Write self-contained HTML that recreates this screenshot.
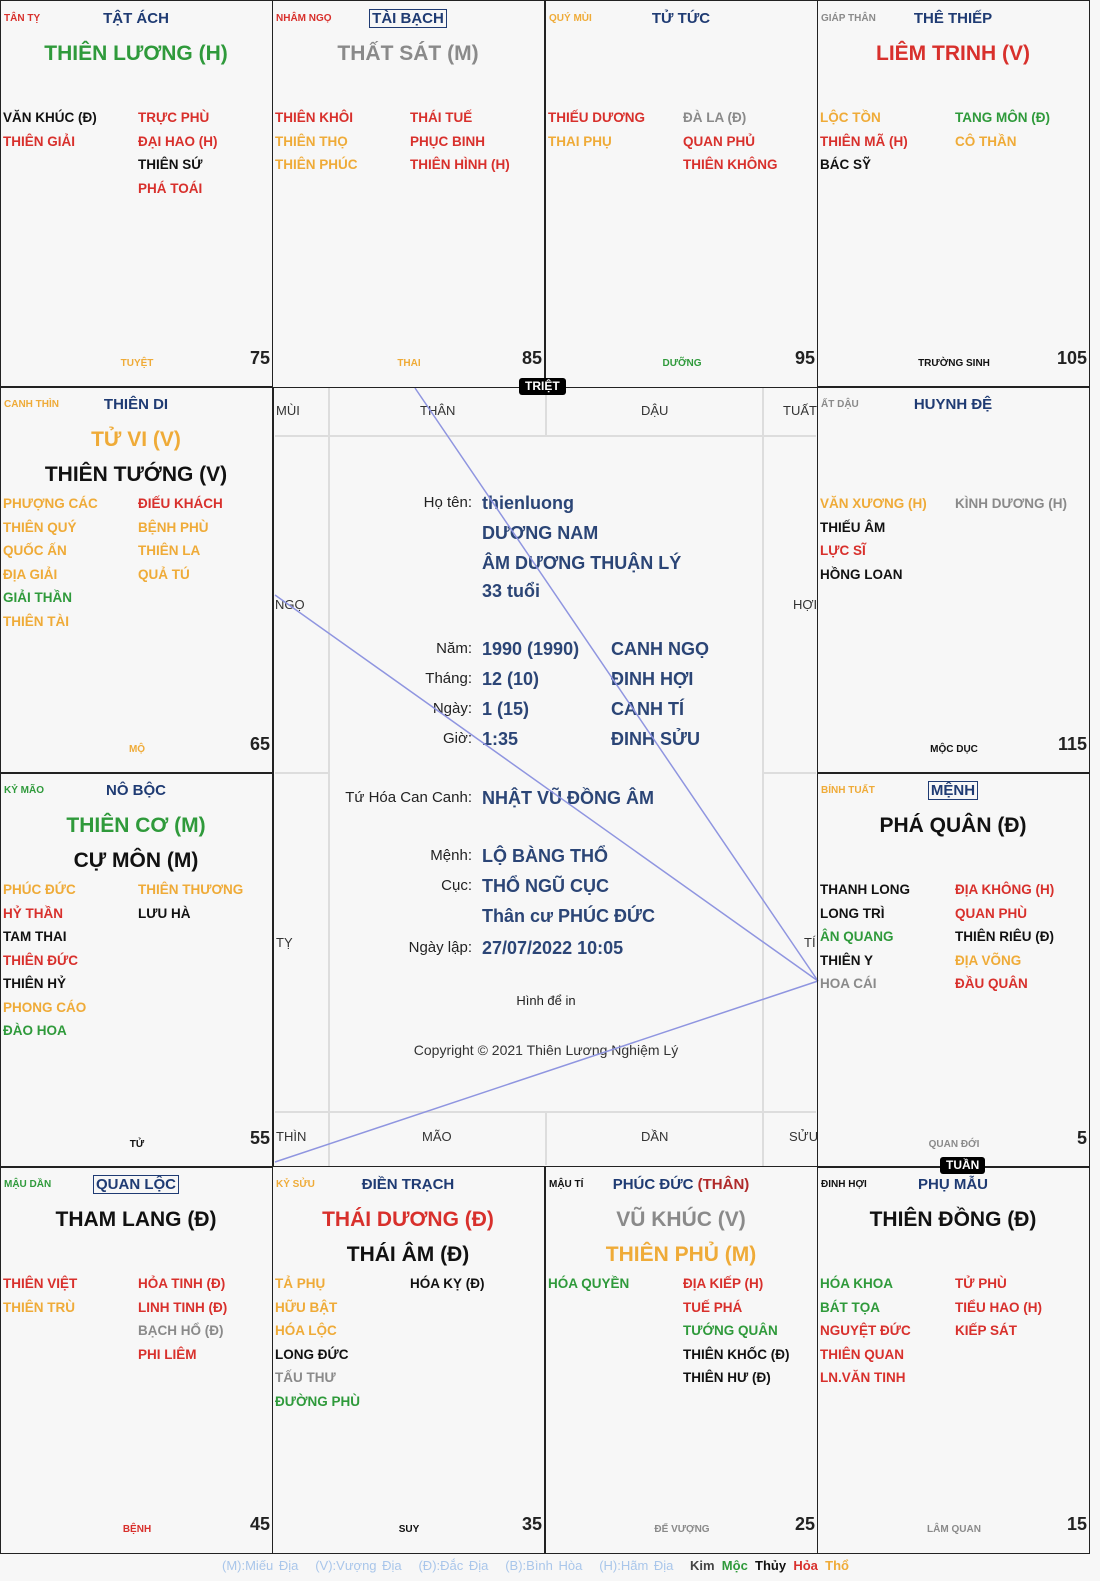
<!DOCTYPE html>
<html><head><meta charset="utf-8">
<style>
*{margin:0;padding:0;box-sizing:border-box}
body{width:1100px;height:1581px;background:#f7f7f7;font-family:"Liberation Sans",sans-serif;position:relative;overflow:hidden}
.c{position:absolute;width:273px;border:1.5px solid #222;}
.a{position:absolute;white-space:nowrap}
.cc{position:absolute;left:3px;top:12px;font-size:10px;font-weight:bold;line-height:12px}
.pn{position:absolute;left:0;width:270px;text-align:center;top:9px;font-size:15px;font-weight:bold;color:#1f3b73;line-height:18px}
.pn span.b{border:1.5px solid #1f3b73;padding:0 2px}
.ms{position:absolute;left:0;width:270px;text-align:center;font-size:21px;font-weight:bold;line-height:24px}
.m1{top:41px}.m2{top:76px}
.l,.r{position:absolute;font-size:13.5px;font-weight:bold;line-height:23.5px;top:105px}
.l{left:2px}.r{left:137px}
.ts{position:absolute;left:0;width:272px;text-align:center;top:357px;font-size:10px;font-weight:bold;line-height:12px}
.nu{position:absolute;right:2px;top:346px;font-size:18px;font-weight:bold;line-height:22px;color:#222}
.R{color:#d8302c}.G{color:#2f9a3b}.O{color:#efab38}.K{color:#111}.Y{color:#8a8a8a}.N{color:#1f3b73}
.br{position:absolute;font-size:13px;color:#333;line-height:14px}
.lb{position:absolute;font-size:15px;color:#222;text-align:right;width:200px;line-height:20px}
.vl{position:absolute;font-size:18px;font-weight:bold;color:#2b4576;line-height:22px;white-space:nowrap}
.bd{position:absolute;background:#000;color:#fff;font-size:12px;font-weight:bold;border-radius:3px;padding:1px 6px;line-height:15px}
</style></head><body>

<!-- center frame lines -->
<div style="position:absolute;left:273px;top:387px;width:545px;height:780px;border:1.5px solid #222"></div>
<div style="position:absolute;left:328px;top:387px;width:436px;height:780px;border-left:2px solid #ddd;border-right:2px solid #ddd"></div>
<div style="position:absolute;left:275px;top:435px;width:541px;height:678px;border-top:2px solid #ddd;border-bottom:2px solid #ddd"></div>
<div style="position:absolute;left:545px;top:387px;width:2px;height:48px;background:#ddd"></div>
<div style="position:absolute;left:545px;top:1113px;width:2px;height:52px;background:#ddd"></div>
<div style="position:absolute;left:275px;top:435px;width:53px;height:339px;border-bottom:2px solid #ddd"></div>
<div style="position:absolute;left:764px;top:435px;width:52px;height:339px;border-bottom:2px solid #ddd"></div>

<div class="br" style="left:276px;top:404px">MÙI</div>
<div class="br" style="left:420px;top:404px">THÂN</div>
<div class="br" style="left:641px;top:404px">DẬU</div>
<div class="br" style="left:783px;top:404px">TUẤT</div>
<div class="br" style="left:275px;top:598px">NGỌ</div>
<div class="br" style="left:793px;top:598px">HỢI</div>
<div class="br" style="left:276px;top:936px">TỴ</div>
<div class="br" style="left:804px;top:936px">TÍ</div>
<div class="br" style="left:276px;top:1130px">THÌN</div>
<div class="br" style="left:422px;top:1130px">MÃO</div>
<div class="br" style="left:641px;top:1130px">DẦN</div>
<div class="br" style="left:789px;top:1130px">SỬU</div>

<div class="lb" style="left:272px;top:493px">Họ tên:</div>
<div class="vl" style="left:482px;top:492px">thienluong</div>
<div class="vl" style="left:482px;top:522px">DƯƠNG NAM</div>
<div class="vl" style="left:482px;top:552px">ÂM DƯƠNG THUẬN LÝ</div>
<div class="vl" style="left:482px;top:580px">33 tuổi</div>
<div class="lb" style="left:272px;top:639px">Năm:</div><div class="vl" style="left:482px;top:638px">1990 (1990)</div><div class="vl" style="left:611px;top:638px">CANH NGỌ</div>
<div class="lb" style="left:272px;top:669px">Tháng:</div><div class="vl" style="left:482px;top:668px">12 (10)</div><div class="vl" style="left:611px;top:668px">ĐINH HỢI</div>
<div class="lb" style="left:272px;top:699px">Ngày:</div><div class="vl" style="left:482px;top:698px">1 (15)</div><div class="vl" style="left:611px;top:698px">CANH TÍ</div>
<div class="lb" style="left:272px;top:729px">Giờ:</div><div class="vl" style="left:482px;top:728px">1:35</div><div class="vl" style="left:611px;top:728px">ĐINH SỬU</div>
<div class="lb" style="left:272px;top:788px">Tứ Hóa Can Canh:</div><div class="vl" style="left:482px;top:787px">NHẬT VŨ ĐỒNG ÂM</div>
<div class="lb" style="left:272px;top:846px">Mệnh:</div><div class="vl" style="left:482px;top:845px">LỘ BÀNG THỔ</div>
<div class="lb" style="left:272px;top:876px">Cục:</div><div class="vl" style="left:482px;top:875px">THỔ NGŨ CỤC</div>
<div class="vl" style="left:482px;top:905px">Thân cư PHÚC ĐỨC</div>
<div class="lb" style="left:272px;top:938px">Ngày lập:</div><div class="vl" style="left:482px;top:937px">27/07/2022 10:05</div>
<div class="a" style="left:0;width:1092px;text-align:center;top:993px;font-size:13px;color:#222">Hình để in</div>
<div class="a" style="left:0;width:1092px;text-align:center;top:1042px;font-size:14px;color:#333">Copyright © 2021 Thiên Lương Nghiệm Lý</div>

<svg style="position:absolute;left:0;top:0" width="1100" height="1581">
<g stroke="#8f95e0" stroke-width="1.5" fill="none">
<line x1="415" y1="388" x2="818" y2="981"/>
<line x1="275" y1="595" x2="818" y2="981"/>
<line x1="275" y1="1162" x2="818" y2="981"/>
</g></svg>

<!-- Row 1 -->
<div class="c" style="left:0;top:0;height:388px">
<div class="cc R">TÂN TỴ</div><div class="pn">TẬT ÁCH</div>
<div class="ms m1 G">THIÊN LƯƠNG (H)</div>
<div class="l"><div class="K">VĂN KHÚC (Đ)</div><div class="R">THIÊN GIẢI</div></div>
<div class="r"><div class="R">TRỰC PHÙ</div><div class="R">ĐẠI HAO (H)</div><div class="K">THIÊN SỨ</div><div class="R">PHÁ TOÁI</div></div>
<div class="ts O">TUYỆT</div><div class="nu">75</div></div>

<div class="c" style="left:272px;top:0;height:388px">
<div class="cc R">NHÂM NGỌ</div><div class="pn"><span class="b">TÀI BẠCH</span></div>
<div class="ms m1 Y">THẤT SÁT (M)</div>
<div class="l"><div class="R">THIÊN KHÔI</div><div class="O">THIÊN THỌ</div><div class="O">THIÊN PHÚC</div></div>
<div class="r"><div class="R">THÁI TUẾ</div><div class="R">PHỤC BINH</div><div class="R">THIÊN HÌNH (H)</div></div>
<div class="ts O">THAI</div><div class="nu">85</div></div>

<div class="c" style="left:545px;top:0;height:388px">
<div class="cc O">QUÝ MÙI</div><div class="pn">TỬ TỨC</div>
<div class="l"><div class="R">THIẾU DƯƠNG</div><div class="O">THAI PHỤ</div></div>
<div class="r"><div class="Y">ĐÀ LA (Đ)</div><div class="R">QUAN PHỦ</div><div class="R">THIÊN KHÔNG</div></div>
<div class="ts G">DƯỠNG</div><div class="nu">95</div></div>

<div class="c" style="left:817px;top:0;height:388px">
<div class="cc Y">GIÁP THÂN</div><div class="pn">THÊ THIẾP</div>
<div class="ms m1 R">LIÊM TRINH (V)</div>
<div class="l"><div class="O">LỘC TỒN</div><div class="R">THIÊN MÃ (H)</div><div class="K">BÁC SỸ</div></div>
<div class="r"><div class="G">TANG MÔN (Đ)</div><div class="O">CÔ THẦN</div></div>
<div class="ts K">TRƯỜNG SINH</div><div class="nu">105</div></div>

<!-- Row 2 -->
<div class="c" style="left:0;top:386px;height:388px">
<div class="cc O">CANH THÌN</div><div class="pn">THIÊN DI</div>
<div class="ms m1 O">TỬ VI (V)</div><div class="ms m2 K">THIÊN TƯỚNG (V)</div>
<div class="l"><div class="O">PHƯỢNG CÁC</div><div class="O">THIÊN QUÝ</div><div class="O">QUỐC ẤN</div><div class="O">ĐỊA GIẢI</div><div class="G">GIẢI THẦN</div><div class="O">THIÊN TÀI</div></div>
<div class="r"><div class="R">ĐIẾU KHÁCH</div><div class="O">BỆNH PHÙ</div><div class="O">THIÊN LA</div><div class="O">QUẢ TÚ</div></div>
<div class="ts O">MỘ</div><div class="nu">65</div></div>

<div class="c" style="left:817px;top:386px;height:388px">
<div class="cc Y">ẤT DẬU</div><div class="pn">HUYNH ĐỆ</div>
<div class="l"><div class="O">VĂN XƯƠNG (H)</div><div class="K">THIẾU ÂM</div><div class="R">LỰC SĨ</div><div class="K">HỒNG LOAN</div></div>
<div class="r"><div class="Y">KÌNH DƯƠNG (H)</div></div>
<div class="ts K">MỘC DỤC</div><div class="nu">115</div></div>

<!-- Row 3 -->
<div class="c" style="left:0;top:772px;height:396px">
<div class="cc G">KỶ MÃO</div><div class="pn">NÔ BỘC</div>
<div class="ms m1 G">THIÊN CƠ (M)</div><div class="ms m2 K">CỰ MÔN (M)</div>
<div class="l"><div class="O">PHÚC ĐỨC</div><div class="R">HỶ THẦN</div><div class="K">TAM THAI</div><div class="R">THIÊN ĐỨC</div><div class="K">THIÊN HỶ</div><div class="O">PHONG CÁO</div><div class="G">ĐÀO HOA</div></div>
<div class="r"><div class="O">THIÊN THƯƠNG</div><div class="K">LƯU HÀ</div></div>
<div class="ts K" style="top:366px">TỬ</div><div class="nu" style="top:354px">55</div></div>

<div class="c" style="left:817px;top:772px;height:396px">
<div class="cc O">BÍNH TUẤT</div><div class="pn"><span class="b">MỆNH</span></div>
<div class="ms K" style="top:41px">PHÁ QUÂN (Đ)</div>
<div class="l"><div class="K">THANH LONG</div><div class="K">LONG TRÌ</div><div class="G">ÂN QUANG</div><div class="K">THIÊN Y</div><div class="Y">HOA CÁI</div></div>
<div class="r"><div class="R">ĐỊA KHÔNG (H)</div><div class="R">QUAN PHÙ</div><div class="K">THIÊN RIÊU (Đ)</div><div class="O">ĐỊA VÕNG</div><div class="R">ĐẦU QUÂN</div></div>
<div class="ts Y" style="top:366px">QUAN ĐỚI</div><div class="nu" style="top:354px">5</div></div>

<!-- Row 4 -->
<div class="c" style="left:0;top:1166px;height:388px">
<div class="cc G">MẬU DẦN</div><div class="pn"><span class="b">QUAN LỘC</span></div>
<div class="ms m1 K">THAM LANG (Đ)</div>
<div class="l"><div class="R">THIÊN VIỆT</div><div class="O">THIÊN TRÙ</div></div>
<div class="r"><div class="R">HỎA TINH (Đ)</div><div class="R">LINH TINH (Đ)</div><div class="Y">BẠCH HỔ (Đ)</div><div class="R">PHI LIÊM</div></div>
<div class="ts R">BỆNH</div><div class="nu">45</div></div>

<div class="c" style="left:272px;top:1166px;height:388px">
<div class="cc O">KỶ SỬU</div><div class="pn">ĐIỀN TRẠCH</div>
<div class="ms m1 R">THÁI DƯƠNG (Đ)</div><div class="ms m2 K">THÁI ÂM (Đ)</div>
<div class="l"><div class="O">TẢ PHỤ</div><div class="O">HỮU BẬT</div><div class="O">HÓA LỘC</div><div class="K">LONG ĐỨC</div><div class="Y">TẤU THƯ</div><div class="G">ĐƯỜNG PHÙ</div></div>
<div class="r"><div class="K">HÓA KỴ (Đ)</div></div>
<div class="ts K">SUY</div><div class="nu">35</div></div>

<div class="c" style="left:545px;top:1166px;height:388px">
<div class="cc K">MẬU TÍ</div><div class="pn">PHÚC ĐỨC <span style="color:#b02a2a">(THÂN)</span></div>
<div class="ms m1 Y">VŨ KHÚC (V)</div><div class="ms m2 O">THIÊN PHỦ (M)</div>
<div class="l"><div class="G">HÓA QUYỀN</div></div>
<div class="r"><div class="R">ĐỊA KIẾP (H)</div><div class="R">TUẾ PHÁ</div><div class="G">TƯỚNG QUÂN</div><div class="K">THIÊN KHỐC (Đ)</div><div class="K">THIÊN HƯ (Đ)</div></div>
<div class="ts Y">ĐẾ VƯỢNG</div><div class="nu">25</div></div>

<div class="c" style="left:817px;top:1166px;height:388px">
<div class="cc K">ĐINH HỢI</div><div class="pn">PHỤ MẪU</div>
<div class="ms m1 K">THIÊN ĐỒNG (Đ)</div>
<div class="l"><div class="G">HÓA KHOA</div><div class="G">BÁT TỌA</div><div class="R">NGUYỆT ĐỨC</div><div class="R">THIÊN QUAN</div><div class="R">LN.VĂN TINH</div></div>
<div class="r"><div class="R">TỬ PHÙ</div><div class="R">TIỂU HAO (H)</div><div class="R">KIẾP SÁT</div></div>
<div class="ts Y">LÂM QUAN</div><div class="nu">15</div></div>

<div class="bd" style="left:519px;top:378px">TRIỆT</div>
<div class="bd" style="left:940px;top:1157px">TUẦN</div>

<div class="a" style="left:222px;top:1558px;font-size:13px;color:#a9c6ea;word-spacing:2px">(M):Miếu Địa &nbsp; (V):Vượng Địa &nbsp; (Đ):Đắc Địa &nbsp; (B):Bình Hòa &nbsp; (H):Hãm Địa</div>
<div class="a" style="left:690px;top:1558px;font-size:13px;font-weight:bold"><span class="K" style="color:#444">Kim</span> &nbsp;<span class="G">Mộc</span> &nbsp;<span class="K">Thủy</span> &nbsp;<span class="R">Hỏa</span> &nbsp;<span class="O">Thổ</span></div>
</body></html>
